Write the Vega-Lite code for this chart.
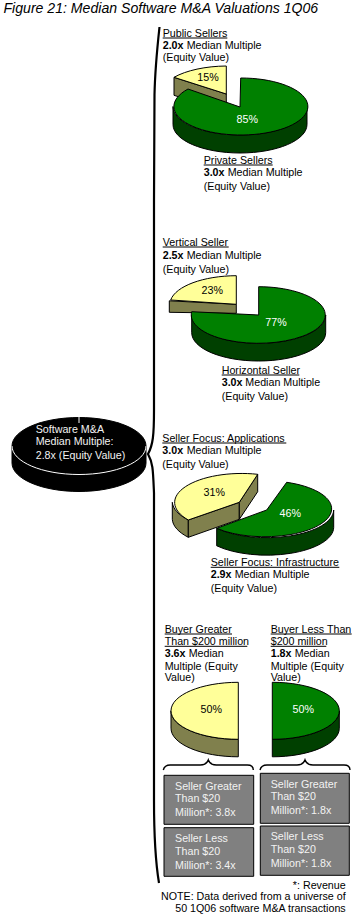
{
"$schema":"https://vega.github.io/schema/vega-lite/v6.json",
"autosize":{"type":"fit","contains":"padding"},
"width":355,"height":920,"padding":0,"background":"white",
"view":{"stroke":null},
"config":{"text":{"font":"Liberation Sans","fontSize":10.7}},
"datasets":{
"labels":[
{"role":"title","text":"Figure 21: Median Software M&A Valuations 1Q06","x":3.5,"y":13},
{"role":"plain","text":"Public Sellers","x":162.7,"y":36.7},
{"role":"bold","text":"2.0x","x":162.7,"y":49},
{"role":"plain","text":"Median Multiple","x":186.7,"y":49},
{"role":"plain","text":"(Equity Value)","x":162.7,"y":61},
{"role":"plain","text":"Private Sellers","x":203.7,"y":163.7},
{"role":"bold","text":"3.0x","x":203.7,"y":176},
{"role":"plain","text":"Median Multiple","x":227.7,"y":176},
{"role":"plain","text":"(Equity Value)","x":203.7,"y":190},
{"role":"plain","text":"Vertical Seller","x":162.7,"y":245.7},
{"role":"bold","text":"2.5x","x":162.7,"y":258.7},
{"role":"plain","text":"Median Multiple","x":186.7,"y":258.7},
{"role":"plain","text":"(Equity Value)","x":162.7,"y":272.7},
{"role":"plain","text":"Horizontal Seller","x":221.7,"y":373.7},
{"role":"bold","text":"3.0x","x":221.7,"y":385.7},
{"role":"plain","text":"Median Multiple","x":245.3,"y":385.7},
{"role":"plain","text":"(Equity Value)","x":221.7,"y":399.7},
{"role":"plain","text":"Seller Focus: Applications","x":162.3,"y":441.7},
{"role":"bold","text":"3.0x","x":162.3,"y":454},
{"role":"plain","text":"Median Multiple","x":186.7,"y":454},
{"role":"plain","text":"(Equity Value)","x":162.3,"y":468},
{"role":"plain","text":"Seller Focus: Infrastructure","x":210.7,"y":565.7},
{"role":"bold","text":"2.9x","x":210.7,"y":577.7},
{"role":"plain","text":"Median Multiple","x":234.7,"y":577.7},
{"role":"plain","text":"(Equity Value)","x":210.7,"y":591.7},
{"role":"plain","text":"Buyer Greater","x":164.7,"y":632.7},
{"role":"plain","text":"Than $200 million","x":164.7,"y":645},
{"role":"bold","text":"3.6x","x":164.7,"y":657},
{"role":"plain","text":"Median","x":188.7,"y":657},
{"role":"plain","text":"Multiple (Equity","x":164.7,"y":669.7},
{"role":"plain","text":"Value)","x":164.7,"y":681.3},
{"role":"plain","text":"Buyer Less Than","x":270.7,"y":632.7},
{"role":"plain","text":"$200 million","x":270.7,"y":645},
{"role":"bold","text":"1.8x","x":270.7,"y":657},
{"role":"plain","text":"Median","x":294.7,"y":657},
{"role":"plain","text":"Multiple (Equity","x":270.7,"y":669.7},
{"role":"plain","text":"Value)","x":270.7,"y":681.3},
{"role":"note","text":"*: Revenue","x":345.7,"y":889},
{"role":"note","text":"NOTE: Data derived from a universe of","x":345.7,"y":899.5},
{"role":"note","text":"50 1Q06 software M&A transactions","x":345.7,"y":912}
],
"inverse":[
{"text":"Software M&A","x":35.7,"y":432.7},
{"text":"Median Multiple:","x":35.7,"y":445},
{"text":"2.8x (Equity Value)","x":35.7,"y":459},
{"text":"Seller Greater","x":175,"y":789.7},
{"text":"Than $20","x":175,"y":802},
{"text":"Million*: 3.8x","x":175,"y":815.7},
{"text":"Seller Less","x":175,"y":842.3},
{"text":"Than $20","x":175,"y":854.7},
{"text":"Million*: 3.4x","x":175,"y":868.7},
{"text":"Seller Greater","x":270.7,"y":787.7},
{"text":"Than $20","x":270.7,"y":800},
{"text":"Million*: 1.8x","x":270.7,"y":813.7},
{"text":"Seller Less","x":270.7,"y":840.3},
{"text":"Than $20","x":270.7,"y":853.3},
{"text":"Million*: 1.8x","x":270.7,"y":867}
],
"underlines":[
{"heading":"Public Sellers","x":162.7,"x2":227.3,"y":38},
{"heading":"Private Sellers","x":203.7,"x2":272.7,"y":165},
{"heading":"Vertical Seller","x":162.7,"x2":228.7,"y":247},
{"heading":"Horizontal Seller","x":221.7,"x2":299.3,"y":375},
{"heading":"Seller Focus: Applications","x":162.3,"x2":286.3,"y":443},
{"heading":"Seller Focus: Infrastructure","x":210.7,"x2":339.3,"y":567.3},
{"heading":"Buyer Greater","x":164.7,"x2":232,"y":634},
{"heading":"Than $200 million","x":164.7,"x2":247.3,"y":646.3},
{"heading":"Buyer Less Than","x":270.7,"x2":351.7,"y":634},
{"heading":"$200 million","x":270.7,"x2":326.3,"y":646.3}
],
"slices":[
{"part":"public-side","tone":"olive","x":226.3,"y":94},
{"part":"public-top","tone":"yellow","x":226.3,"y":94},
{"part":"private-side","tone":"darkgreen","x":240,"y":106.5},
{"part":"private-top","tone":"green","x":240,"y":106.5},
{"part":"vertical-side","tone":"olive","x":236.3,"y":304.3},
{"part":"vertical-top","tone":"yellow","x":236.3,"y":304.3},
{"part":"horizontal-side","tone":"darkgreen","x":258.7,"y":315},
{"part":"horizontal-top","tone":"green","x":258.7,"y":315},
{"part":"applications-rim","tone":"olive","x":239.3,"y":502.3},
{"part":"applications-faceL","tone":"olive","x":239.3,"y":502.3},
{"part":"applications-faceR","tone":"olive","x":239.3,"y":502.3},
{"part":"applications-top","tone":"yellow","x":239.3,"y":502.3},
{"part":"infrastructure-side","tone":"darkgreen","x":266.7,"y":510},
{"part":"infrastructure-top","tone":"green","x":266.7,"y":510},
{"part":"buyergt-side","tone":"olive","x":238.3,"y":710.8},
{"part":"buyergt-top","tone":"yellow","x":238.3,"y":710.8},
{"part":"buyerlt-side","tone":"darkgreen","x":272.3,"y":710.8},
{"part":"buyerlt-top","tone":"green","x":272.3,"y":710.8},
{"part":"software-side","tone":"black","x":79,"y":446},
{"part":"software-top","tone":"black","x":79,"y":446}
],
"shares":[
{"segment":"Public Sellers","share":0.15,"tone":"dark","x":208,"y":81},
{"segment":"Private Sellers","share":0.85,"tone":"light","x":247.3,"y":122.7},
{"segment":"Vertical Seller","share":0.23,"tone":"dark","x":212.3,"y":294},
{"segment":"Horizontal Seller","share":0.77,"tone":"light","x":276,"y":325.7},
{"segment":"Seller Focus: Applications","share":0.31,"tone":"dark","x":214.3,"y":495.7},
{"segment":"Seller Focus: Infrastructure","share":0.46,"tone":"light","x":290.3,"y":517},
{"segment":"Buyer Greater Than $200 million","share":0.5,"tone":"dark","x":211.3,"y":712.7},
{"segment":"Buyer Less Than $200 million","share":0.5,"tone":"light","x":303.3,"y":712.7}
],
"boxes":[
{"segment":"Buyer >$200M, Seller >$20M","multiple":3.8,"x":164,"x2":253.7,"y":775.3,"y2":824.3},
{"segment":"Buyer >$200M, Seller <$20M","multiple":3.4,"x":164,"x2":253.7,"y":827.7,"y2":876.3},
{"segment":"Buyer <$200M, Seller >$20M","multiple":1.8,"x":260.3,"x2":349.3,"y":773.3,"y2":823.3},
{"segment":"Buyer <$200M, Seller <$20M","multiple":1.8,"x":260.3,"x2":349.3,"y":826,"y2":875.3}
],
"braces":[{"group":"Buyer Greater","x":208.3,"y":765},{"group":"Buyer Less","x":305,"y":765}],
"spine":[{"group":"Overall","x":154,"y":455}],
"rim":[{"group":"Software","x":79,"y":446}]
},
"encoding":{
"x":{"field":"x","type":"quantitative","axis":null,"scale":{"domain":[0,355],"nice":false,"zero":false}},
"y":{"field":"y","type":"quantitative","axis":null,"scale":{"domain":[0,920],"reverse":true,"nice":false,"zero":false}}
},
"layer":[
{"data":{"name":"labels"},"transform":[{"filter":"datum.role==='title'"}],
 "mark":{"type":"text","align":"left","baseline":"alphabetic","fontStyle":"italic","fontSize":14.1,"color":"black"},
 "encoding":{"text":{"field":"text"}}},
{"data":{"name":"labels"},"transform":[{"filter":"datum.role==='plain'"}],
 "mark":{"type":"text","align":"left","baseline":"alphabetic","color":"black"},
 "encoding":{"text":{"field":"text"}}},
{"data":{"name":"labels"},"transform":[{"filter":"datum.role==='bold'"}],
 "mark":{"type":"text","align":"left","baseline":"alphabetic","fontWeight":"bold","color":"black"},
 "encoding":{"text":{"field":"text"}}},
{"data":{"name":"labels"},"transform":[{"filter":"datum.role==='note'"}],
 "mark":{"type":"text","align":"right","baseline":"alphabetic","color":"black"},
 "encoding":{"text":{"field":"text"}}},
{"data":{"name":"underlines"},
 "mark":{"type":"rule","color":"black","strokeWidth":1},
 "encoding":{"x2":{"field":"x2"}}},
{"data":{"name":"spine"},
 "mark":{"type":"point","filled":false,"opacity":1,"size":4,"stroke":"black","strokeWidth":2.2,
  "shape":"M5.5,-428 C3,-405 1,-385 0.5,-360 L0,-255 L0,-45 C0,-20 -1,-10 -6,-1 C-1,8 -1,15 0,38 L0,345 C0,390 2,410 5,428"}},
{"data":{"name":"braces"},
 "mark":{"type":"point","filled":false,"opacity":1,"size":4,"stroke":"black","strokeWidth":1.4,
  "shape":"M-45,5 C-44,1 -42,0 -38,0 L-8,0 C-3,0 -1,-2 0,-5 C1,-2 3,0 8,0 L39,0 C43,0 45,1 45,5"}},
{"data":{"name":"slices"},
 "mark":{"type":"point","filled":true,"opacity":1,"size":4,"stroke":"black","strokeWidth":1},
 "encoding":{
  "shape":{"field":"part","type":"nominal","legend":null,"scale":{
   "domain":["public-side","public-top","private-side","private-top","vertical-side","vertical-top","horizontal-side","horizontal-top","applications-rim","applications-faceL","applications-faceR","applications-top","infrastructure-side","infrastructure-top","buyergt-side","buyergt-top","buyerlt-side","buyerlt-top","software-side","software-top"],
   "range":[
    "M0,0 L0,18 L-52.3,1.3 L-52.3,-16.7 Z",
    "M0,0 L0,-28 A67,28 0 0 0 -52.3,-16.7 Z",
    "M67,0 L67,18 A67,28.5 0 0 1 -67,18 L-67,0 A67,28.5 0 0 0 67,0 Z",
    "M0,0.5 L0.7,-28.5 A67,28.5 0 1 1 -52,-17.5 Z",
    "M0,0 L0,9 L-67,8 L-67,-3.5 Z",
    "M0,0 L0,-28.6 A67,28.6 0 0 0 -65.6,-4.3 Z",
    "M67,0 L67,17.7 A67,28.3 0 0 1 -67,17.7 L-67,0 A67,28.3 0 0 0 67,0 Z",
    "M0,0 L0,-28.3 A67,28.3 0 1 1 -67,-3.3 Z",
    "M-67,0 A67,29 0 0 0 -51,17.7 L-51,35 A67,29 0 0 1 -67,17 Z",
    "M0,0 L-51,17.7 L-51,35 L0,17 Z",
    "M0,0 L18.4,-28 L18.4,-10.6 L0,17 Z",
    "M0,0 L18.4,-28 A67,29 0 0 0 -51,17.7 Z",
    "M67,0 L67,17.5 A67,28 0 0 1 -50,35.8 L-50,18.3 A67,28 0 0 0 67,0 Z",
    "M0,0 L20,-27.7 A67,28 0 1 1 -50,18.3 Z",
    "M-67.3,0 A67.3,28.5 0 0 0 0,28.5 L0,46 A67.3,28.5 0 0 1 -67.3,17.4 Z",
    "M0,-28.5 A67.3,28.5 0 0 0 0,28.5 Z",
    "M67,0 L67,17.4 A67,28.5 0 0 1 0,46 L0,28.5 A67,28.5 0 0 0 67,0 Z",
    "M0,-28.5 A67,28.5 0 0 1 0,28.5 Z",
    "M-67,0 L-67,17 A67,28.5 0 0 0 67,17 L67,0 Z",
    "M-67,0 A67,28.5 0 1 1 67,0 A67,28.5 0 1 1 -67,0 Z"
   ]}},
  "fill":{"field":"tone","type":"nominal","legend":null,"scale":{
   "domain":["yellow","olive","green","darkgreen","black"],
   "range":["#FFFF99","#80804D","#008000","#004000","#000000"]}}
 }},
{"data":{"name":"rim"},
 "mark":{"type":"point","filled":false,"opacity":1,"size":4,"stroke":"white","strokeWidth":1,
  "shape":"M-67,0 A67,28.5 0 0 0 67,0 M0,-29 L0,-23"}},
{"data":{"name":"boxes"},
 "mark":{"type":"rect","fill":"#808080","stroke":"black","strokeWidth":1},
 "encoding":{"x2":{"field":"x2"},"y2":{"field":"y2"}}},
{"data":{"name":"shares"},
 "mark":{"type":"text","align":"center","baseline":"alphabetic"},
 "encoding":{
  "text":{"field":"share","type":"quantitative","format":".0%"},
  "color":{"field":"tone","type":"nominal","legend":null,"scale":{"domain":["dark","light"],"range":["#000000","#FFFFFF"]}}}},
{"data":{"name":"inverse"},
 "mark":{"type":"text","align":"left","baseline":"alphabetic","color":"#F2F2F2"},
 "encoding":{"text":{"field":"text"}}}
]
}
